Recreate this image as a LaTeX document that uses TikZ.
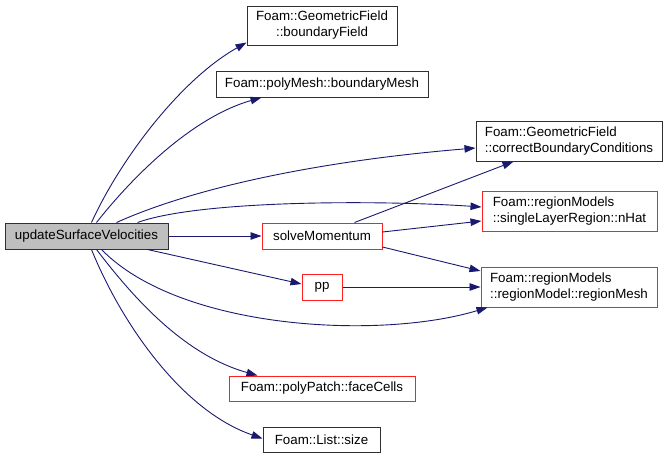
\documentclass[tikz,border=0pt]{standalone}
\usepackage{fontspec}
\setmainfont{Liberation Sans}
\usetikzlibrary{arrows.meta}
\definecolor{edgeblue}{HTML}{191970}
\definecolor{redb}{HTML}{FF2020}
\definecolor{blackb}{HTML}{303030}
\begin{document}
\begin{tikzpicture}[x=1pt,y=-1pt,
  box/.style={draw=blackb,line width=1pt,fill=white,inner sep=0pt,font=\fontsize{13.33}{16}\selectfont},
  redbox/.style={box,draw=redb},
  srcbox/.style={box,fill=black!25},
  conn/.style={draw=edgeblue,line width=0.9pt,-{Triangle[length=11pt,width=7.5pt]}}]
\useasboundingbox (0,0) rectangle (668,458);
\node[srcbox,minimum width=163pt,minimum height=26pt] (src) at (86.5,236) {updateSurfaceVelocities};
\node[box,minimum width=150pt,minimum height=39pt,align=center] (bf) at (322,25.5) {Foam::GeometricField\\::boundaryField};
\node[box,minimum width=212pt,minimum height=26pt] (bm) at (322,84) {Foam::polyMesh::boundaryMesh};
\node[box,minimum width=186pt,minimum height=40pt,align=left] (cbc) at (569,141) {Foam::GeometricField\\::correctBoundaryConditions};
\node[redbox,minimum width=175pt,minimum height=40pt,align=left] (nhat) at (569.5,211) {Foam::regionModels\\::singleLayerRegion::nHat};
\node[redbox,minimum width=120pt,minimum height=26pt] (sm) at (322,236) {solveMomentum};
\node[redbox,minimum width=40pt,minimum height=26pt] (pp) at (322,287) {pp};
\node[redbox,minimum width=176pt,minimum height=40pt,align=left] (rm) at (569,287) {Foam::regionModels\\::regionModel::regionMesh};
\node[redbox,minimum width=186pt,minimum height=25pt] (fc) at (322,388.5) {Foam::polyPatch::faceCells};
\node[box,minimum width=117pt,minimum height=25pt] (ls) at (321.5,439.5) {Foam::List::size};

\draw[conn] ([xshift=87pt]src.north west) .. controls (120,160) and (180,80) .. ([yshift=3pt]bf.south west);
\draw[conn] ([xshift=92pt]src.north west) .. controls (130,180) and (190,118) .. ([xshift=46pt]bm.south west);
\draw[conn] ([xshift=112pt]src.north west) .. controls (200,185) and (330,160) .. ([yshift=-7pt]cbc.west);
\draw[conn] ([xshift=133pt]src.north west) .. controls (200,200) and (380,200) .. ([yshift=4pt]nhat.west);
\draw[conn] (src.east) -- (sm.west);
\draw[conn] ([xshift=143pt]src.south west) -- ([yshift=3pt]pp.west);
\draw[conn] ([xshift=97pt]src.south west) .. controls (180,330) and (380,340) .. ([xshift=7pt]rm.south west);
\draw[conn] ([xshift=92pt]src.south west) .. controls (135,300) and (185,355) .. ([xshift=29pt]fc.north west);
\draw[conn] ([xshift=87pt]src.south west) .. controls (120,320) and (180,410) .. ([yshift=1pt]ls.west);
\draw[conn] ([xshift=93pt]sm.north west) -- ([xshift=38pt]cbc.south west);
\draw[conn] ([yshift=4pt]sm.east) -- ([yshift=-10pt]nhat.west);
\draw[conn] ([yshift=-11pt]sm.east) -- ([yshift=16pt]rm.west);
\draw[conn] (pp.east) -- (rm.west);
\end{tikzpicture}
\end{document}
